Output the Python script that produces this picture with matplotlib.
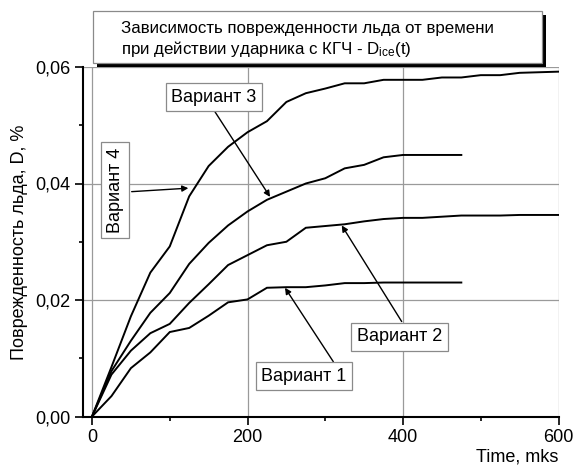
import matplotlib
matplotlib.use("Agg")
import matplotlib.pyplot as plt
from matplotlib.patches import Rectangle
from matplotlib.ticker import FixedLocator

plt.rcParams['font.family'] = ['Liberation Sans', 'DejaVu Sans']
plt.rcParams['mathtext.fontset'] = 'custom'
plt.rcParams['mathtext.rm'] = 'Liberation Sans'
plt.rcParams['mathtext.it'] = 'Liberation Sans:italic'

# ---- data ----
t_long = [0, 25, 50, 75, 100, 125, 150, 175, 200, 225, 250, 275, 300, 325, 350,
          375, 400, 425, 450, 475, 500, 525, 550, 575, 600]
t_short = t_long[:20]

var1 = [0, 0.0035, 0.0083, 0.0110, 0.0145, 0.0152, 0.0173, 0.0196, 0.0201, 0.0221,
        0.0222, 0.0222, 0.0225, 0.0229, 0.0229, 0.0230, 0.0230, 0.0230, 0.0230, 0.0230]
var2 = [0, 0.0072, 0.0113, 0.0143, 0.0159, 0.0195, 0.0227, 0.0260, 0.0277, 0.0294,
        0.0300, 0.0324, 0.0327, 0.0330, 0.0335, 0.0339, 0.0341, 0.0341, 0.0343, 0.0345,
        0.0345, 0.0345, 0.0346, 0.0346, 0.0346]
var3 = [0, 0.0078, 0.0130, 0.0178, 0.0212, 0.0262, 0.0298, 0.0328, 0.0352, 0.0372,
        0.0386, 0.0400, 0.0409, 0.0426, 0.0432, 0.0445, 0.0449, 0.0449, 0.0449, 0.0449]
var4 = [0, 0.0085, 0.0172, 0.0247, 0.0292, 0.0378, 0.0430, 0.0463, 0.0488, 0.0507,
        0.0540, 0.0555, 0.0563, 0.0572, 0.0572, 0.0578, 0.0578, 0.0578, 0.0582, 0.0582,
        0.0586, 0.0586, 0.0590, 0.0591, 0.0592]

x_ticks = [0, 200, 400, 600]
x_ticklabels = ["0", "200", "400", "600"]
y_ticks = [0.0, 0.02, 0.04, 0.06]
y_ticklabels = ["0,00", "0,02", "0,04", "0,06"]

labels = ["Вариант 1", "Вариант 2", "Вариант 3", "Вариант 4"]
title_lines = ["Зависимость поврежденности льда от времени",
               "при действии ударника с КГЧ - D$_{\\mathrm{ice}}$(t)"]
xlabel = "Time, mks"
ylabel = "Поврежденность льда, D, %"

# ---- figure ----
W, H = 574, 467
fig = plt.figure(figsize=(W / 100, H / 100), dpi=100)
ax = fig.add_axes([83 / W, 1 - 416.5 / H, (558.5 - 83) / W, (416.5 - 67) / H])

ax.set_xlim(-11.6, 600)
ax.set_ylim(0, 0.06)

grid_c = '#9a9a9a'
for xv in x_ticks:
    ax.axvline(xv, color=grid_c, lw=0.9, zorder=1)
for yv in y_ticks[1:]:
    ax.axhline(yv, color=grid_c, lw=0.9, zorder=1)

for t, v in [(t_short, var1), (t_long, var2), (t_short, var3), (t_long, var4)]:
    ax.plot(t, v, color='black', lw=1.4, zorder=3, solid_joinstyle='miter')

for s in ['top', 'right']:
    ax.spines[s].set_visible(False)
for s in ['left', 'bottom']:
    ax.spines[s].set_linewidth(1.5)

ax.xaxis.set_major_locator(FixedLocator(x_ticks))
ax.set_xticklabels(x_ticklabels)
ax.xaxis.set_minor_locator(FixedLocator([100, 300, 500]))
ax.yaxis.set_major_locator(FixedLocator(y_ticks))
ax.set_yticklabels(y_ticklabels)
ax.yaxis.set_minor_locator(FixedLocator([0.01, 0.03, 0.05]))
ax.tick_params(which='major', direction='out', length=5.5, width=1.2,
               labelsize=13, pad=3.5, colors='black')
ax.tick_params(which='minor', direction='out', length=3, width=1.2)

fig.text(20 / W, 1 - 242 / H, ylabel, rotation=90, ha='center', va='center', fontsize=13)
fig.text(558 / W, 1 - 457 / H, xlabel, ha='right', va='center', fontsize=13)

# ---- annotation boxes ----
box = dict(boxstyle='square,pad=0.3', fc='white', ec='#8a8a8a', lw=0.9)
arrow = dict(arrowstyle='-|>', color='black', lw=1.0, mutation_scale=9,
             shrinkA=0, shrinkB=0)

# (label, text pos, tail, tip, rotation)
ann = [
    (labels[0], (272.7, 0.0069), (310.4, 0.0094), (248.2, 0.0221), 0),
    (labels[1], (395.5, 0.0137), (398.3, 0.0163), (321.2, 0.0328), 0),
    (labels[2], (156.9, 0.0548), (158.2, 0.0523), (229.0, 0.0377), 0),
    (labels[3], (29.6, 0.0389), (51.0, 0.0386), (123.9, 0.0392), 90),
]
for lab, tp, tail, tip, rot in ann:
    ax.annotate('', xy=tip, xytext=tail, arrowprops=arrow, zorder=4)
    ax.text(tp[0], tp[1], lab, ha='center', va='center', fontsize=13,
            rotation=rot, bbox=box, zorder=5)

# ---- title box with shadow ----
def fx(px):
    return px / W

def fy(py):
    return 1 - py / H

fig.patches.append(Rectangle((fx(97), fy(67)), fx(546) - fx(97), fy(15) - fy(67),
                             transform=fig.transFigure, fc='black', ec='none', zorder=5))
fig.patches.append(Rectangle((fx(93), fy(63)), fx(542) - fx(93), fy(11) - fy(63),
                             transform=fig.transFigure, fc='white', ec='#8a8a8a',
                             lw=0.9, zorder=6))
fig.text(fx(121), fy(33), title_lines[0], ha='left', va='baseline', fontsize=12.2, zorder=7)
fig.text(fx(121), fy(54), title_lines[1], ha='left', va='baseline', fontsize=12.2, zorder=7)

fig.savefig("out.png", dpi=100)
